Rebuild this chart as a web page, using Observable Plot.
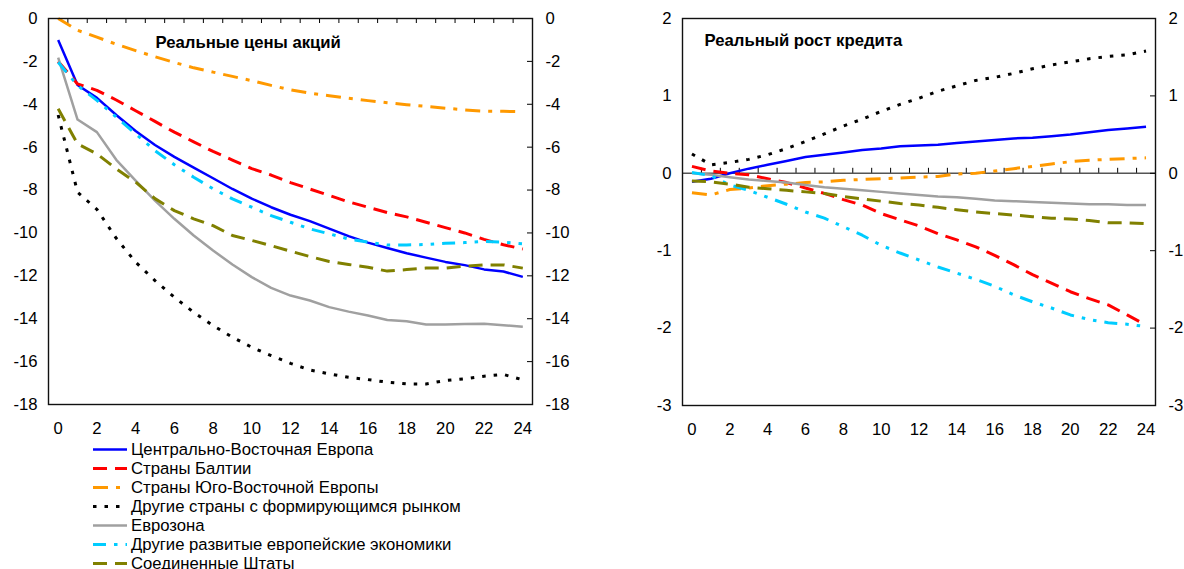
<!DOCTYPE html>
<html>
<head>
<meta charset="utf-8">
<script src="https://cdn.jsdelivr.net/npm/d3@7"></script>
<script src="https://cdn.jsdelivr.net/npm/@observablehq/plot@0.6"></script>
<style>
  body { margin: 0; background: #fff; font-family: "Liberation Sans", Arial, sans-serif; }
  #wrap { position: relative; width: 1184px; height: 569px; overflow: hidden; background: #fff; }
  .chart { position: absolute; top: 0; }
  #legend { position: absolute; left: 0; top: 439.5px; width: 600px; }
  .row { position: relative; height: 19.1px; }
  .row svg { position: absolute; left: 93px; top: 0; }
  .row span { position: absolute; left: 131px; top: 0; line-height: 19px; font-size: 16.7px; color: #000; white-space: nowrap; }
</style>
</head>
<body>
<div id="wrap">
  <div id="left" class="chart" style="left:0px"></div>
  <div id="right" class="chart" style="left:592px"></div>
  <div id="legend"></div>
</div>
<script>
// ---- categories ----
const months = [0,1,2,3,4,5,6,7,8,9,10,11,12,13,14,15,16,17,18,19,20,21,22,23,24];
const xLabelTicks = [0,2,4,6,8,10,12,14,16,18,20,22,24];
const xMinorTicks = [0.5,1.5,2.5,3.5,4.5,5.5,6.5,7.5,8.5,9.5,10.5,11.5,12.5,13.5,14.5,15.5,16.5,17.5,18.5,19.5,20.5,21.5,22.5,23.5];
const seriesNames = [
  "Центрально-Восточная Европа",
  "Страны Балтии",
  "Страны Юго-Восточной Европы",
  "Другие страны с формирующимся рынком",
  "Еврозона",
  "Другие развитые европейские экономики",
  "Соединенные Штаты"
];
const titleStocks = "Реальные цены акций";
const titleCredit = "Реальный рост кредита";
const stockTicks = [0,-2,-4,-6,-8,-10,-12,-14,-16,-18];
const creditTicks = [2,1,0,-1,-2,-3];

// ---- series values: real stock prices ----
const stockCEE      = [-1.0,-3.1,-3.7,-4.5,-5.25,-5.9,-6.45,-6.95,-7.45,-7.95,-8.4,-8.8,-9.15,-9.45,-9.8,-10.15,-10.45,-10.7,-10.95,-11.15,-11.35,-11.5,-11.7,-11.8,-12.05];
const stockBaltic   = [-2.0,-3.05,-3.35,-3.8,-4.3,-4.8,-5.3,-5.75,-6.2,-6.6,-7.0,-7.3,-7.65,-7.95,-8.25,-8.55,-8.8,-9.05,-9.25,-9.5,-9.75,-10.0,-10.3,-10.55,-10.75];
const stockSEE      = [0.0,-0.55,-0.87,-1.2,-1.5,-1.78,-2.05,-2.3,-2.5,-2.7,-2.9,-3.12,-3.33,-3.48,-3.6,-3.72,-3.83,-3.93,-4.02,-4.1,-4.18,-4.26,-4.32,-4.33,-4.34];
const stockOtherEM  = [-4.5,-8.1,-8.9,-10.25,-11.36,-12.22,-13.0,-13.7,-14.32,-14.86,-15.33,-15.72,-16.08,-16.39,-16.57,-16.73,-16.84,-16.96,-17.04,-17.04,-16.88,-16.8,-16.68,-16.6,-16.85];
const stockEuro     = [-1.83,-4.71,-5.3,-6.59,-7.56,-8.49,-9.34,-10.12,-10.82,-11.47,-12.06,-12.56,-12.92,-13.15,-13.46,-13.67,-13.85,-14.06,-14.12,-14.27,-14.27,-14.25,-14.24,-14.3,-14.37];
const stockOtherDev = [-2.04,-3.12,-3.82,-4.6,-5.38,-6.16,-6.82,-7.4,-7.94,-8.41,-8.8,-9.19,-9.5,-9.81,-10.04,-10.28,-10.43,-10.56,-10.56,-10.54,-10.48,-10.45,-10.4,-10.43,-10.51];
const stockUS       = [-4.21,-5.85,-6.31,-7.01,-7.63,-8.4,-8.96,-9.34,-9.66,-10.12,-10.35,-10.59,-10.85,-11.1,-11.33,-11.47,-11.6,-11.78,-11.71,-11.64,-11.64,-11.55,-11.49,-11.49,-11.64];

// ---- series values: real credit growth ----
const creditCEE      = [-0.11,-0.07,0.0,0.06,0.11,0.16,0.21,0.24,0.27,0.3,0.32,0.35,0.36,0.37,0.39,0.41,0.43,0.45,0.46,0.48,0.5,0.53,0.56,0.58,0.6];
const creditBaltic   = [0.09,0.03,0.0,-0.02,-0.07,-0.12,-0.19,-0.26,-0.34,-0.41,-0.52,-0.6,-0.68,-0.78,-0.86,-0.95,-1.06,-1.18,-1.31,-1.42,-1.53,-1.62,-1.7,-1.83,-1.96];
const creditSEE      = [-0.25,-0.28,-0.21,-0.19,-0.16,-0.14,-0.12,-0.11,-0.09,-0.08,-0.07,-0.06,-0.05,-0.04,-0.01,0.0,0.03,0.06,0.09,0.12,0.15,0.17,0.18,0.19,0.2];
const creditOtherEM  = [0.25,0.11,0.14,0.18,0.24,0.32,0.41,0.51,0.61,0.7,0.8,0.89,0.97,1.06,1.13,1.2,1.24,1.29,1.35,1.4,1.44,1.48,1.51,1.53,1.58];
const creditEuro     = [0.0,-0.02,-0.05,-0.08,-0.1,-0.12,-0.15,-0.18,-0.2,-0.22,-0.24,-0.26,-0.28,-0.3,-0.31,-0.33,-0.35,-0.36,-0.37,-0.38,-0.39,-0.4,-0.4,-0.41,-0.41];
const creditOtherDev = [0.01,-0.03,-0.15,-0.22,-0.31,-0.4,-0.5,-0.58,-0.69,-0.8,-0.93,-1.03,-1.12,-1.21,-1.29,-1.37,-1.46,-1.57,-1.66,-1.74,-1.83,-1.89,-1.93,-1.95,-1.98];
const creditUS       = [-0.1,-0.11,-0.14,-0.18,-0.2,-0.22,-0.24,-0.26,-0.3,-0.33,-0.36,-0.39,-0.41,-0.44,-0.47,-0.5,-0.52,-0.54,-0.56,-0.58,-0.59,-0.61,-0.64,-0.64,-0.65];

// ---- styles ----
const colors = ["#0000ff","#ff0000","#ff9900","#000000","#a0a0a0","#00ccff","#808000"];
const dashes = [null,"14,8","15,8,4,8","3.5,8",null,"13,8,3.5,8,3.5,8","14,8"];
const widths = [2.5,3,3,3,2.5,3,3];

const stockSeries = [stockCEE,stockBaltic,stockSEE,stockOtherEM,stockEuro,stockOtherDev,stockUS];
const creditSeries = [creditCEE,creditBaltic,creditSEE,creditOtherEM,creditEuro,creditOtherDev,creditUS];

function rowsOf(seriesValues, i) {
  return months.map((m, j) => ({series: seriesNames[i], month: m, value: seriesValues[j]}));
}

const fmt = d => String(d);
const FONT = '"Liberation Sans", Arial, sans-serif';
const FS = 16.7;

function chart({series, yDomain, yTicks, title, titleDx, titleDy, ticksDown, marginLeft, marginRight, marginBottom, zeroLine}) {
  const xDomain = [-0.5, 24.5];
  const marks = [];
  if (zeroLine) marks.push(Plot.ruleY([0], {stroke: "#555", strokeWidth: 1.5}));
  // minor x ticks on the zero line
  marks.push(Plot.ruleX(xMinorTicks, {
    x: d => d, y1: () => 0, y2: () => 0,
    insetTop: ticksDown ? 5 : 0, insetBottom: ticksDown ? 0 : 5,
    stroke: "#000", strokeWidth: 1
  }));
  // inward ticks on right y axis
  marks.push(Plot.ruleY(yTicks, {
    y: d => d, x1: () => xDomain[1], x2: () => xDomain[1], insetRight: 5,
    stroke: "#000", strokeWidth: 1
  }));
  series.forEach((vals, i) => {
    marks.push(Plot.line(rowsOf(vals, i), {
      x: "month", y: "value", stroke: colors[i], strokeWidth: widths[i],
      strokeDasharray: dashes[i], strokeLinecap: "butt", strokeLinejoin: "round"
    }));
  });
  marks.push(Plot.frame({stroke: "#111", strokeWidth: 1.4}));
  marks.push(Plot.axisY(yTicks, {anchor: "left", tickSize: 0, tickPadding: 11, tickFormat: fmt, fontSize: FS, label: null}));
  marks.push(Plot.axisY(yTicks, {anchor: "right", tickSize: 0, tickPadding: 13, tickFormat: fmt, fontSize: FS, label: null}));
  marks.push(Plot.axisX(xLabelTicks, {anchor: "bottom", tickSize: 0, tickPadding: 18, tickFormat: fmt, fontSize: FS, label: null}));
  marks.push(Plot.text([title], {
    frameAnchor: "top-left", text: d => d, dx: titleDx, dy: titleDy, lineAnchor: "middle",
    textAnchor: "start", fontWeight: "bold", fontSize: FS, fill: "#000"
  }));
  return Plot.plot({
    width: 592, height: 440,
    marginTop: 18, marginBottom, marginLeft, marginRight,
    x: {domain: xDomain, axis: null},
    y: {domain: yDomain, axis: null},
    style: {fontFamily: FONT, fontSize: FS + "px", color: "#000", background: "transparent", overflow: "visible"},
    marks
  });
}

document.getElementById("left").append(chart({
  series: stockSeries, yDomain: [-18, 0], yTicks: stockTicks,
  title: titleStocks, titleDx: 107, titleDy: 24, ticksDown: true,
  marginLeft: 48, marginRight: 60, marginBottom: 36, zeroLine: false
}));

document.getElementById("right").append(chart({
  series: creditSeries, yDomain: [-3, 2], yTicks: creditTicks,
  title: titleCredit, titleDx: 22, titleDy: 22, ticksDown: false,
  marginLeft: 90, marginRight: 29, marginBottom: 35, zeroLine: true
}));

// ---- legend ----
const legend = document.getElementById("legend");
seriesNames.forEach((name, i) => {
  const row = document.createElement("div");
  row.className = "row";
  const svg = d3.create("svg").attr("width", 34).attr("height", 19);
  svg.append("line").attr("x1", 0).attr("x2", 34).attr("y1", 9.5).attr("y2", 9.5)
    .attr("stroke", colors[i]).attr("stroke-width", widths[i])
    .attr("stroke-dasharray", dashes[i]);
  row.append(svg.node());
  const span = document.createElement("span");
  span.textContent = name;
  row.append(span);
  legend.append(row);
});
</script>
</body>
</html>
